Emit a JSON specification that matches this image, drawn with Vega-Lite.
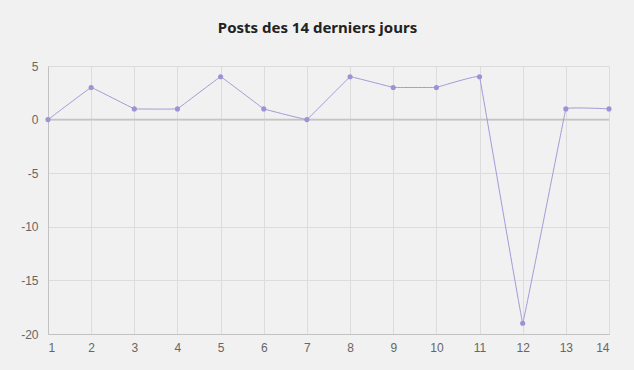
{
  "$schema": "https://vega.github.io/schema/vega-lite/v6.json",
  "width": 561,
  "height": 268,
  "autosize": "none",
  "padding": {"left": 48, "top": 66, "right": 25, "bottom": 36},
  "background": "#f1f1f1",
  "title": {
    "text": "Posts des 14 derniers jours",
    "font": "Noto Sans",
    "fontSize": 15,
    "fontWeight": "bold",
    "color": "#222222",
    "anchor": "middle",
    "dx": -11,
    "offset": 24
  },
  "data": {
    "values": [
      {"jour": 1, "posts": 0},
      {"jour": 2, "posts": 3},
      {"jour": 3, "posts": 1},
      {"jour": 4, "posts": 1},
      {"jour": 5, "posts": 4},
      {"jour": 6, "posts": 1},
      {"jour": 7, "posts": 0},
      {"jour": 8, "posts": 4},
      {"jour": 9, "posts": 3},
      {"jour": 10, "posts": 3},
      {"jour": 11, "posts": 4},
      {"jour": 12, "posts": -19},
      {"jour": 13, "posts": 1},
      {"jour": 14, "posts": 1}
    ]
  },
  "config": {
    "view": {"stroke": null},
    "axis": {
      "labelFont": "Liberation Sans",
      "labelFontSize": 12,
      "labelColor": "#666666",
      "gridColor": "#dcdcdc",
      "gridWidth": 1,
      "domainColor": "#c2c2c2",
      "ticks": false,
      "title": null
    }
  },
  "layer": [
    {
      "mark": {"type": "rule", "color": "#c4c4c4", "strokeWidth": 1.5},
      "data": {"values": [{"z": 0}]},
      "encoding": {"y": {"field": "z", "type": "quantitative", "scale": {"domain": [-20, 5]}}}
    },
    {
      "mark": {"type": "line", "color": "#a29bd8", "strokeWidth": 1, "interpolate": "cardinal", "tension": 0.94},
      "encoding": {
        "x": {"field": "jour", "type": "quantitative", "scale": {"domain": [1, 14], "nice": false},
          "axis": {"values": [1,2,3,4,5,6,7,8,9,10,11,12,13,14], "labelPadding": 8, "labelExpr": "toString(datum.value)"}},
        "y": {"field": "posts", "type": "quantitative", "scale": {"domain": [-20, 5], "nice": false},
          "axis": {"values": [-20,-15,-10,-5,0,5], "labelPadding": 10, "labelExpr": "toString(datum.value)"}}
      }
    },
    {
      "mark": {"type": "point", "filled": true, "color": "#9a93d4", "size": 26, "opacity": 1},
      "encoding": {
        "x": {"field": "jour", "type": "quantitative"},
        "y": {"field": "posts", "type": "quantitative"}
      }
    }
  ]
}
